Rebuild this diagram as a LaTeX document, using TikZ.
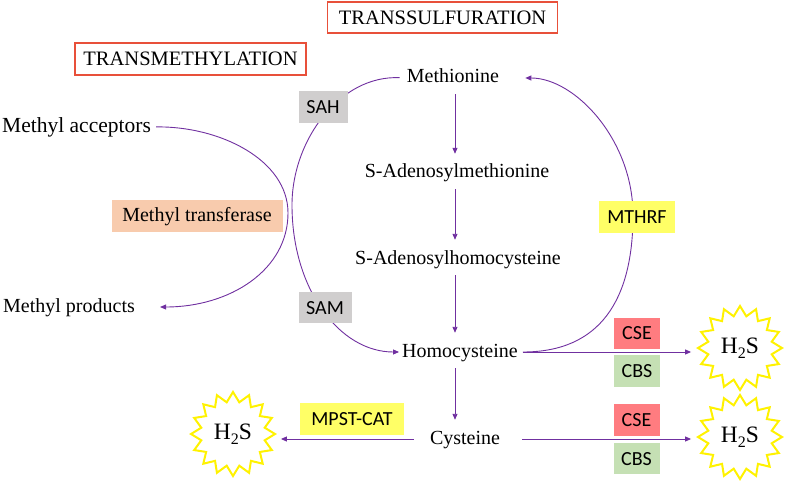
\documentclass[tikz,border=0pt]{standalone}
\usepackage{fontspec}
\setmainfont{Liberation Serif}
\newfontfamily\boxfont{Carlito}
\usetikzlibrary{shapes.geometric,arrows.meta,calc}
\definecolor{pur}{HTML}{7030A0}
\definecolor{titlered}{HTML}{E8503A}
\definecolor{graybox}{HTML}{D0CECE}
\definecolor{peach}{HTML}{F8CBAD}
\definecolor{ylw}{HTML}{FFFF66}
\definecolor{csered}{HTML}{FF7C80}
\definecolor{cbsgreen}{HTML}{C5E0B4}
\definecolor{staryel}{HTML}{FFF200}
\tikzset{
  lbl/.style={font=\fontsize{20}{24}\selectfont, inner sep=0pt, text height=14pt, text depth=4pt, anchor=base},
  sbox/.style={font=\boxfont\fontsize{20}{24}\selectfont, inner sep=0pt, text height=13pt, text depth=0pt},
  titlebox/.style={draw=titlered, line width=1.5pt, font=\fontsize{20.5}{24}\selectfont, inner sep=0pt, text height=13.6pt, text depth=0pt},
  h2s/.style={star, star points=16, star point ratio=1.3, draw=staryel, line width=2pt, fill=white, minimum size=84pt, inner sep=0pt, font=\fontsize{23.5}{26}\selectfont},
  arr/.style={draw=pur, line width=0.9pt, -{Triangle[length=6pt,width=5pt]}},
  varr/.style={arr, shorten <=7pt, shorten >=10pt}
}
\newcommand{\htwos}{H\raisebox{-5pt}{\fontsize{16}{16}\selectfont 2}S}
\begin{document}
\begin{tikzpicture}[x=1pt,y=-1pt]
\useasboundingbox (0,0) rectangle (787,484);
% titles
\node[titlebox, minimum width=230pt, minimum height=31pt] (tsul) at (442.5,17.5) {TRANSSULFURATION};
\node[titlebox, minimum width=231pt, minimum height=32pt] (tmet) at (190.5,59) {TRANSMETHYLATION};
% metabolites
\node[lbl] (met) at (453,83) {Methionine};
\node[lbl] (sam) at (457,178) {S-Adenosylmethionine};
\node[lbl] (sah) at (458,264) {S-Adenosylhomocysteine};
\node[lbl] (hcy) at (460,357) {Homocysteine};
\node[lbl] (cys) at (465,444) {Cysteine};
\node[lbl, anchor=base west, font=\fontsize{21.5}{24}\selectfont] (acc) at (2,132) {Methyl acceptors};
\node[lbl, anchor=base west] (prod) at (3,312) {Methyl products};
% stars
\node[h2s] (s1) at (740,348) {\htwos};
\node[h2s] (s2) at (740,437) {\htwos};
\node[h2s] (s3) at (233,434) {\htwos};
\coordinate (col) at (455,0);
% vertical arrows
\draw[varr] (met.south -| col) -- (sam.north -| col);
\draw[varr] (sam.south -| col) -- (sah.north -| col);
\draw[varr] (sah.south -| col) -- (hcy.north -| col);
\draw[varr] (hcy.south -| col) -- (cys.north -| col);
% horizontal arrows
\draw[arr, shorten <=5pt, shorten >=5pt] (hcy.east) -- (hcy.east -| s1.west);
\draw[arr, shorten <=22pt, shorten >=5pt] (cys.east) -- (cys.east -| s2.west);
\draw[arr, shorten <=16pt, shorten >=4pt] (cys.west) -- (cys.west -| s3.east);
% curves
\draw[arr, shorten <=5pt, shorten >=26pt] (hcy.east) .. controls (600,352) and (633,300) .. (633,215) .. controls (633,140) and (575,78) .. (met.east);
\draw[arr, shorten <=7pt, shorten >=3pt] (met.west) .. controls (340,75) and (292,140) .. (292,205) .. controls (292,290) and (340,352) .. (hcy.west);
\draw[arr, shorten <=5pt, shorten >=25pt] (acc.east) .. controls (220,126) and (288,160) .. (288,213) .. controls (288,270) and (230,307) .. (prod.east);
% enzyme boxes
\node[sbox, fill=graybox, minimum width=49pt, minimum height=32pt] (bsah) at (323,107) {SAH};
\node[sbox, fill=graybox, minimum width=53pt, minimum height=31pt] (bsam) at (325,307.5) {SAM};
\node[sbox, fill=ylw, minimum width=76pt, minimum height=32pt] (mthrf) at (637,217) {MTHRF};
\node[sbox, fill=csered, minimum width=46pt, minimum height=31pt] (cse1) at (637,333) {CSE};
\node[sbox, fill=cbsgreen, minimum width=46pt, minimum height=32pt] (cbs1) at (637,371) {CBS};
\node[sbox, fill=csered, minimum width=46pt, minimum height=32pt] (cse2) at (636.5,420) {CSE};
\node[sbox, fill=cbsgreen, minimum width=46pt, minimum height=31pt] (cbs2) at (636.5,458.5) {CBS};
\node[sbox, fill=ylw, minimum width=104pt, minimum height=32pt] (mpst) at (352,419) {MPST-CAT};
\node[fill=peach, font=\fontsize{20}{24}\selectfont, inner sep=0pt, text height=14pt, text depth=4pt, minimum width=171pt, minimum height=32pt] (mtr) at (197,216) {Methyl transferase};
\end{tikzpicture}
\end{document}
